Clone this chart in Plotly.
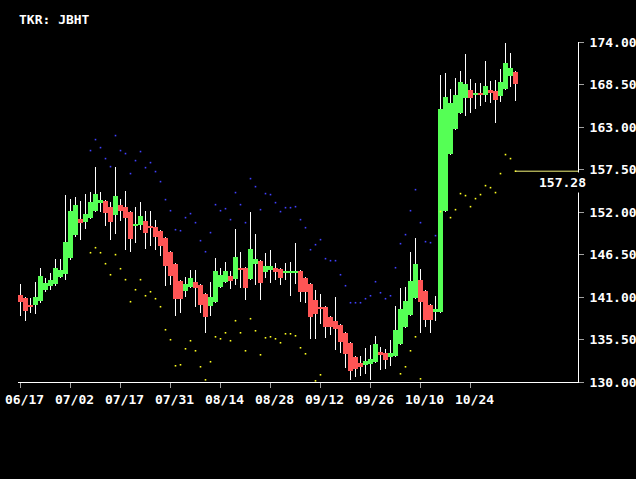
import plotly.graph_objects as go

ticker = "JBHT"

opens = [141.29, 140.91, 140.00, 139.91, 140.43, 141.94, 142.37, 142.72, 143.63, 144.01,
         146.09, 149.07, 151.14, 150.75, 151.27, 152.17, 153.21, 153.47, 152.69, 151.66,
         152.95, 152.69, 152.05, 150.17, 150.36, 150.88, 150.23, 150.10, 149.58, 148.68,
         146.86, 145.31, 143.11, 141.81, 142.33, 142.98, 142.59, 141.42, 139.87, 140.39,
         142.33, 142.98, 143.76, 143.37, 144.79, 144.79, 143.37, 145.31, 145.70, 144.27,
         144.53, 144.79, 144.66, 144.14, 144.14, 144.14, 144.40, 143.50, 142.72, 140.65,
         139.74, 139.74, 138.44, 137.93, 137.41, 136.37, 135.08, 133.26, 132.49, 132.23,
         132.36, 132.62, 133.91, 133.78, 133.26, 133.39, 134.95, 137.15, 138.70, 140.91,
         143.24, 141.81, 140.00, 139.09, 139.09, 152.17, 159.56, 162.80, 164.87, 166.81,
         167.85, 167.20, 167.39, 167.20, 167.85, 167.72, 167.07, 167.98, 169.66, 170.18]

highs = [142.72, 141.03, 140.91, 142.89, 144.79, 143.50, 144.14, 145.96, 145.96, 154.25,
         153.73, 153.99, 153.47, 154.38, 154.64, 157.87, 154.64, 153.60, 153.34, 157.87,
         153.73, 154.77, 152.17, 152.69, 153.34, 152.17, 152.17, 151.01, 149.71, 148.81,
         146.99, 145.44, 143.24, 143.63, 144.53, 144.53, 142.72, 141.55, 142.98, 146.09,
         144.79, 145.57, 144.40, 149.84, 146.86, 144.92, 152.05, 149.20, 145.83, 146.73,
         147.12, 145.44, 144.79, 145.44, 145.57, 148.03, 144.53, 143.63, 142.85, 141.94,
         141.42, 139.87, 138.57, 141.04, 137.54, 136.50, 135.21, 133.39, 133.39, 134.43,
         134.82, 135.98, 134.56, 134.30, 135.47, 139.87, 142.20, 142.33, 146.86, 148.68,
         144.66, 141.94, 140.13, 141.16, 169.79, 170.05, 167.98, 169.40, 170.31, 172.51,
         169.27, 168.75, 168.75, 171.60, 169.01, 169.14, 170.57, 173.90, 172.64, 170.31]

lows = [138.48, 137.93, 138.96, 138.83, 140.26, 141.68, 141.85, 142.46, 143.50, 143.24,
        145.83, 148.81, 148.42, 149.84, 151.14, 152.05, 151.95, 150.23, 148.42, 149.20,
        150.88, 147.12, 146.86, 148.03, 149.71, 147.25, 147.64, 147.12, 146.35, 142.46,
        142.59, 138.57, 138.96, 141.04, 142.20, 139.74, 138.96, 136.37, 138.57, 140.26,
        142.20, 142.85, 142.07, 142.59, 142.20, 140.65, 143.24, 142.59, 140.65, 143.50,
        142.85, 143.24, 142.59, 143.24, 141.16, 142.72, 140.39, 140.26, 135.59, 135.59,
        137.54, 135.72, 136.11, 134.17, 133.78, 131.84, 130.28, 130.67, 130.80, 131.06,
        130.28, 132.49, 131.58, 131.71, 132.10, 133.26, 134.82, 137.02, 138.57, 140.78,
        136.37, 137.15, 136.37, 137.93, 138.96, 152.05, 159.43, 162.67, 164.74, 164.48,
        164.87, 165.39, 165.78, 166.29, 166.16, 163.57, 166.29, 167.85, 168.24, 166.42]

closes = [140.30, 139.13, 139.78, 141.04, 143.76, 142.85, 143.24, 144.79, 144.53, 148.16,
          152.17, 152.95, 150.62, 151.79, 153.34, 154.38, 153.60, 151.92, 150.75, 154.12,
          152.17, 151.27, 148.55, 150.43, 151.53, 149.33, 149.97, 148.81, 147.64, 145.05,
          143.76, 140.78, 140.78, 142.72, 143.50, 142.20, 140.00, 138.44, 141.04, 144.40,
          143.88, 144.40, 143.11, 146.22, 144.60, 142.20, 147.25, 145.96, 142.85, 145.05,
          145.05, 144.27, 143.50, 144.40, 144.40, 144.40, 141.68, 141.68, 138.44, 138.83,
          139.54, 137.15, 137.15, 136.89, 135.21, 133.65, 131.45, 131.71, 131.97, 132.75,
          133.00, 134.95, 133.52, 132.87, 133.78, 136.76, 139.48, 140.52, 143.11, 145.31,
          140.39, 138.06, 138.06, 139.48, 165.39, 166.94, 166.16, 167.20, 168.88, 168.62,
          166.81, 167.39, 167.20, 168.37, 167.46, 166.55, 168.88, 171.34, 170.70, 168.62]

upper_band = ([None] * 14 +
              [159.95, 161.37, 160.33, 158.91, 157.87, 161.89, 159.95, 159.56, 156.97, 158.65,
               159.82, 157.74, 158.39, 157.23, 155.93, 153.60, 152.17, 149.71, 149.58, 151.27,
               151.79, 150.62, 148.29, 146.86, 149.33, 152.95, 152.17, 152.43, 151.01, 154.51,
               152.95, 150.62, 156.32, 155.28, 152.30, 154.38, 154.25, 153.21, 152.05, 152.56,
               152.56, 152.69, 151.01, 149.97, 147.12, 147.77, 148.42, 145.96, 145.70, 145.70,
               143.88, 142.46, 140.26, 140.26, 140.26, 140.78, 141.16, 142.98, 141.55, 140.78,
               141.16, 144.79, 147.90, 149.07, 152.17, 154.89, 150.62, 148.16, 148.03, 148.94] +
              [None] * 16)

lower_band = ([None] * 14 +
              [146.73, 147.38, 146.73, 145.31, 143.88, 146.48, 144.66, 143.24, 140.39, 141.94,
               143.24, 141.16, 141.68, 140.78, 139.74, 136.76, 135.47, 132.10, 132.23, 134.30,
               135.34, 134.04, 131.97, 130.28, 132.62, 135.85, 135.59, 136.37, 135.34, 137.93,
               136.37, 134.04, 138.19, 136.63, 133.52, 135.72, 135.85, 135.59, 135.08, 136.24,
               136.24, 135.98, 134.43, 133.65] +
              [None] + [130.15, 130.93] + [None] * 15 +
              [131.06, 131.97, 134.04, 135.85, 130.41] + [None] * 3 +
              [152.05] + [None] +
              [151.27, 152.30, 154.38, 154.12, 152.69, 153.73, 154.25, 155.41, 155.15, 154.51,
               156.97, 159.43, 158.91, 157.28])

last_value = 157.28

date_tick_index = [0, 10, 20, 30, 40, 50, 60, 70, 80, 90]
date_tick_labels = ["06/17", "07/02", "07/17", "07/31", "08/14", "08/28",
                    "09/12", "09/26", "10/10", "10/24"]
price_ticks = [130.0, 135.5, 141.0, 146.5, 152.0, 157.5, 163.0, 168.5, 174.0]

UP = "#55ff55"
DOWN = "#ff5555"
FONT = "DejaVu Sans Mono"

idx = list(range(len(opens)))
x_max = 111.5

fig = go.Figure()

# wicks (thin bars so that bodies, drawn after, sit on top)
fig.add_trace(go.Bar(
    x=idx, base=lows, y=[h - l for h, l in zip(highs, lows)],
    width=0.2, marker=dict(color="white", line=dict(width=0)),
    hoverinfo="skip"))

# bodies
fig.add_trace(go.Bar(
    x=idx, base=[min(o, c) for o, c in zip(opens, closes)],
    y=[abs(c - o) for o, c in zip(opens, closes)],
    width=1.0,
    marker=dict(color=[UP if c >= o else DOWN for o, c in zip(opens, closes)],
                line=dict(width=0)),
    hoverinfo="skip"))

# band dots
fig.add_trace(go.Scatter(x=idx, y=upper_band, mode="markers",
                         marker=dict(symbol="square", size=1.6, color="#4040ff",
                                     line=dict(width=0))))
fig.add_trace(go.Scatter(x=idx, y=lower_band, mode="markers",
                         marker=dict(symbol="square", size=1.6, color="#ffff20",
                                     line=dict(width=0))))

# last value line
fig.add_trace(go.Scatter(x=[idx[-1], x_max], y=[last_value, last_value], mode="lines",
                         line=dict(color="#f4f47a", width=1)))

fig.add_annotation(text=f"{last_value:.2f}", xref="paper", yref="y",
                   x=1.019, y=last_value, xanchor="right", yanchor="top",
                   yshift=-1, showarrow=False, bgcolor="black", borderpad=2,
                   font=dict(family=FONT, size=13, color="white", weight="bold"))

fig.update_layout(
    width=636, height=479,
    margin=dict(l=18, r=58, t=42, b=97, autoexpand=False),
    paper_bgcolor="black", plot_bgcolor="black",
    showlegend=False, barmode="overlay", bargap=0,
    font=dict(family=FONT, size=13, color="white", weight="bold"),
    title=dict(text=f"TKR: {ticker}", x=19 / 636, xanchor="left", xref="container",
               y=1 - 19 / 479, yanchor="middle", yref="container",
               font=dict(family=FONT, size=13, color="white", weight="bold")),
)

fig.update_xaxes(range=[-0.5, x_max], showgrid=False, zeroline=False, automargin=False,
                 showline=True, linecolor="white", linewidth=1,
                 ticks="outside", ticklen=5, tickcolor="#a0a0a0", tickwidth=1,
                 tickvals=date_tick_index, ticktext=date_tick_labels,
                 ticklabelshift=4, fixedrange=True)

fig.update_yaxes(range=[130, 174], side="right", showgrid=False, zeroline=False,
                 automargin=False,
                 showline=True, linecolor="white", linewidth=1,
                 ticks="outside", ticklen=5, tickcolor="#a0a0a0", tickwidth=1,
                 tickvals=price_ticks, ticktext=[f"{v:.2f}" for v in price_ticks],
                 ticklabelstandoff=3, fixedrange=True)

fig.write_html("out.html", config={"displayModeBar": False},
               post_script="document.body.style.margin='0';document.body.style.background='black';")
